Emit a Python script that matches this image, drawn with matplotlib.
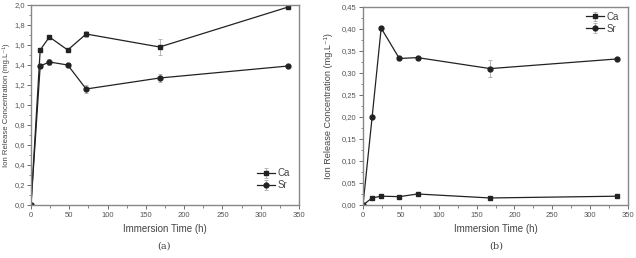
import matplotlib.pyplot as plt
from matplotlib.ticker import FuncFormatter, MultipleLocator

time_h = [0, 12, 24, 48, 72, 168, 336]

# panel (a)
ca_a = [0.0, 1.55, 1.68, 1.55, 1.71, 1.58, 1.98]
ca_a_err = [0.0, 0.02, 0.02, 0.02, 0.03, 0.08, 0.01]
sr_a = [0.0, 1.39, 1.43, 1.40, 1.16, 1.27, 1.39]
sr_a_err = [0.0, 0.02, 0.03, 0.02, 0.04, 0.04, 0.01]

# panel (b)
ca_b = [0.0, 0.016, 0.020, 0.019, 0.025, 0.016, 0.020]
ca_b_err = [0.0, 0.001, 0.002, 0.002, 0.002, 0.002, 0.001]
sr_b = [0.0, 0.199, 0.402, 0.333, 0.335, 0.310, 0.332]
sr_b_err = [0.0, 0.003, 0.003, 0.003, 0.003, 0.020, 0.003]

ylabel = 'Ion Release Concentration (mg.L\u207b\u00b9)'

plt.rcParams['font.family'] = ['Liberation Sans', 'DejaVu Sans']

fig = plt.figure(figsize=(6.36, 2.58), dpi=100)
W, H = 636, 258
ax_a = fig.add_axes([31 / W, 1 - 205 / H, 268 / W, 200 / H])
ax_b = fig.add_axes([363 / W, 1 - 205 / H, 265 / W, 198 / H])


def comma(fmt):
    return FuncFormatter(lambda v, p: (fmt % v).replace('.', ','))


def style(ax, ymax, ymaj, ymin, yfmt, ypad):
    ax.set_xlim(0, 350)
    ax.set_ylim(0, ymax)
    ax.xaxis.set_major_locator(MultipleLocator(50))
    ax.xaxis.set_minor_locator(MultipleLocator(25))
    ax.yaxis.set_major_locator(MultipleLocator(ymaj))
    ax.yaxis.set_minor_locator(MultipleLocator(ymin))
    ax.yaxis.set_major_formatter(comma(yfmt))
    for s in ax.spines.values():
        s.set_color('#888888')
        s.set_linewidth(1.0)
    ax.tick_params(which='both', direction='out', colors='#555555', labelsize=5.5,
                   labelcolor='#555555', pad=2)
    ax.tick_params(axis='y', pad=ypad)
    ax.tick_params(which='major', length=3, width=0.6)
    ax.tick_params(which='minor', length=1.8, width=0.5)
    ax.set_xlabel('Immersion Time (h)', fontsize=7, color='#444444', labelpad=4)


def series(ax, y, err, marker, label):
    ax.errorbar(time_h, y, yerr=err, color='#222222', marker=marker, markersize=3.5,
                linewidth=0.9, ecolor='#aaaaaa', elinewidth=0.6, capsize=1.5,
                capthick=0.6, label=label)


series(ax_a, ca_a, ca_a_err, 's', 'Ca')
series(ax_a, sr_a, sr_a_err, 'o', 'Sr')
style(ax_a, 2.0, 0.2, 0.1, '%.1f', 1.0)
ax_a.legend(loc='lower right', bbox_to_anchor=(1.0, 0.03), frameon=False,
            fontsize=7, handlelength=1.8, handletextpad=0.3, labelspacing=0.2,
            labelcolor='#444444')
fig.text(2 / W, 1 - 105 / H, ylabel, rotation=90, ha='left', va='center',
         fontsize=5.6, color='#444444')

series(ax_b, ca_b, ca_b_err, 's', 'Ca')
series(ax_b, sr_b, sr_b_err, 'o', 'Sr')
style(ax_b, 0.45, 0.05, 0.025, '%.2f', 2.0)
ax_b.set_ylabel(ylabel, fontsize=6.6, color='#444444')
ax_b.yaxis.set_label_coords(-0.115, 0.5)
ax_b.legend(loc='upper right', bbox_to_anchor=(1.0, 1.02), frameon=False,
            fontsize=7, handlelength=1.8, handletextpad=0.3, labelspacing=0.2,
            labelcolor='#444444')

fig.text(164 / W, 1 - 246 / H, '(a)', family='serif', fontsize=7, color='#444444',
         ha='center', va='center')
fig.text(496 / W, 1 - 246 / H, '(b)', family='serif', fontsize=7, color='#444444',
         ha='center', va='center')

fig.savefig('out.png', dpi=100)
